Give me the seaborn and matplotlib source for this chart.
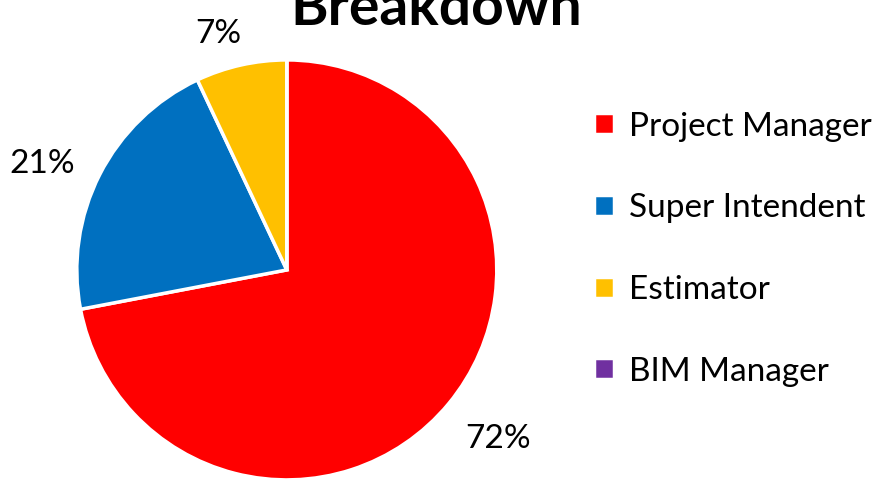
import matplotlib.pyplot as plt
import numpy as np
import seaborn as sns

sns.set_theme(style='white')
plt.rcParams['font.family'] = ['Lato', 'DejaVu Sans']
plt.rcParams['text.color'] = 'black'

roles = ['Project Manager', 'Super Intendent', 'Estimator', 'BIM Manager']
shares = [72, 21, 7, 0]
role_color = ['#ff0000', '#0070c0', '#ffc000', '#7030a0']
label_dist = [1.29, 1.27, 1.17, 1.2]
label_turn = [1.0, 3.5, 3.5, 0.0]  # small angle nudge, degrees

fig = plt.figure(figsize=(8.83, 4.79), dpi=100)
ax = fig.add_axes([0.087, -0.002, 0.4756, 0.877])

wedges, _, pct = ax.pie(
    shares,
    colors=role_color,
    startangle=90,
    counterclock=False,
    autopct=lambda p: f'{p:.0f}%' if p > 0 else '',
    pctdistance=1.25,
    radius=1,
    wedgeprops={'edgecolor': 'white', 'linewidth': 2.5},
    textprops={'fontsize': 24, 'color': 'black'},
)
# push each percentage label out along its wedge's middle
for w, t, d, a in zip(wedges, pct, label_dist, label_turn):
    mid = np.deg2rad((w.theta1 + w.theta2) / 2 + a)
    t.set_position((d * np.cos(mid), d * np.sin(mid)))
ax.set_xlim(-1, 1)
ax.set_ylim(-1, 1)
ax.set_aspect('equal')

fig.text(0.494, 0.947, 'Breakdown', ha='center', va='baseline',
         fontsize=41, fontweight='bold')

fig.legend(wedges, roles, loc='upper left', bbox_to_anchor=(0.658, 0.795),
           frameon=False, fontsize=24, handlelength=0.6, handleheight=0.6,
           handletextpad=0.45, labelspacing=1.55, borderaxespad=0)

fig.savefig('out.png', dpi=100)
